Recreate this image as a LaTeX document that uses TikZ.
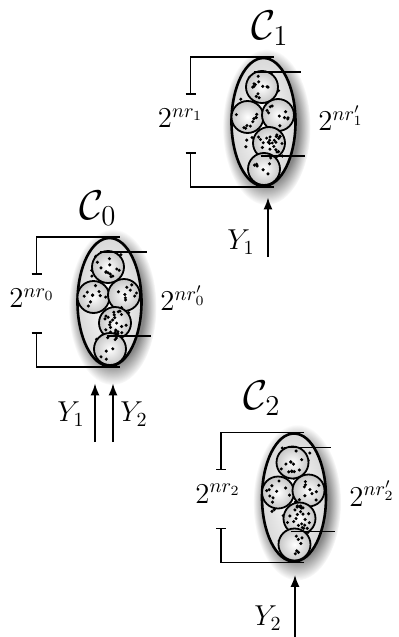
\documentclass[tikz,border=0pt]{standalone}
\usetikzlibrary{arrows.meta, calc, shapes.geometric, fadings}

\pgfdeclareradialshading{glowshade}{\pgfpointorigin}{color(0bp)=(pgftransparent!30); color(18bp)=(pgftransparent!45); color(25bp)=(pgftransparent!100); color(50bp)=(pgftransparent!100)}
\pgfdeclarefading{glow}{\pgfuseshading{glowshade}}

\begin{document}
\begin{tikzpicture}[x=0.5pt, y=-0.5pt,
    ell/.style={ellipse,draw,line width=1.3pt,minimum width=32pt,minimum height=64pt,inner sep=0pt,inner color=white,outer color=gray!30},
    ball/.style={circle,draw,line width=0.9pt,minimum size=16pt,inner sep=0pt,inner color=white,outer color=gray!45},
    brk/.style={line width=0.9pt},
    lbl/.style={font=\Large,inner sep=0pt},
    ttl/.style={font=\huge},
    ylbl/.style={font=\Large},
    arr/.style={-{Latex[length=6pt,width=4.5pt]},line width=1pt}]
    \useasboundingbox (0,0) rectangle (399,637);
    \pgfmathsetseed{11}
    % the three clusters
    \foreach \i/\cx/\cy/\lx/\rx in {0/109.5/302/-77.5/73.5,1/263.5/122/-83/77.5,2/294/497.5/-76/78}{
      \fill[black!85,path fading=glow] (\cx+3,\cy+5) ellipse [x radius=44, y radius=78];
      \node[ell] (e\i) at (\cx,\cy) {};
      \foreach \k in {1,...,40}{
        \pgfmathsetmacro\ang{360*rnd}\pgfmathsetmacro\rad{sqrt(rnd)}
        \fill ($(e\i)+(\ang:{26*\rad} and {56*\rad})$) circle (0.85pt);
      }
      \foreach \j/\dx/\dy/\n in {1/-1.5/-35/12,2/-16/-5/10,3/14.5/-7/10,4/5.5/21/24,5/0.5/47/7}{
        \node[ball] (b\i\j) at ($(e\i)+(\dx,\dy)$) {};
        \foreach \k in {1,...,\n}{
          \pgfmathsetmacro\ang{360*rnd}\pgfmathsetmacro\rad{13*sqrt(rnd)}
          \fill ($(b\i\j)+(\ang:\rad)$) circle (0.85pt);
        }
      }
      \draw[brk] ($(e\i)+(10,-65)$) -| ($(e\i)+(-73,-28)$) ++(-5,0) -- ++(10,0);
      \draw[brk] ($(e\i)+(10,65)$) -| ($(e\i)+(-73,31)$) ++(-5,0) -- ++(10,0);
      \draw[brk] ($(e\i)+(-10,-50)$) -- ($(e\i)+(37,-50)$);
      \draw[brk] ($(e\i)+(-3,34)$) -- ($(e\i)+(41,34)$);
      \node[lbl] (l\i) at ($(e\i)+(\lx,-4)$) {$2^{nr_\i}$};
      \node[lbl] (r\i) at ($(e\i)+(\rx,-4)$) {$2^{nr'_\i}$};
    }
    \node[ttl] (t0) at (98,208) {$\mathcal{C}_0$};
    \node[ttl] (t1) at (270,28) {$\mathcal{C}_1$};
    \node[ttl] (t2) at (262,398) {$\mathcal{C}_2$};
    % inputs
    \coordinate (a01) at (95,442);
    \coordinate (a02) at (113,442);
    \coordinate (a1) at (268,257);
    \coordinate (a2) at (295,637);
    \draw[arr,shorten >=8pt] (a01) -- (a01 |- e0.south);
    \draw[arr,shorten >=8pt] (a02) -- (a02 |- e0.south);
    \draw[arr,shorten >=5pt] (a1) -- (a1 |- e1.south);
    \draw[arr,shorten >=6pt] (a2) -- (a2 |- e2.south);
    \node[ylbl] (y01) at (71,414) {$Y_1$};
    \node[ylbl] (y02) at (134,414) {$Y_2$};
    \node[ylbl] (y1) at (241,242) {$Y_1$};
    \node[ylbl] (y2) at (268,618) {$Y_2$};
  \end{tikzpicture}
\end{document}
